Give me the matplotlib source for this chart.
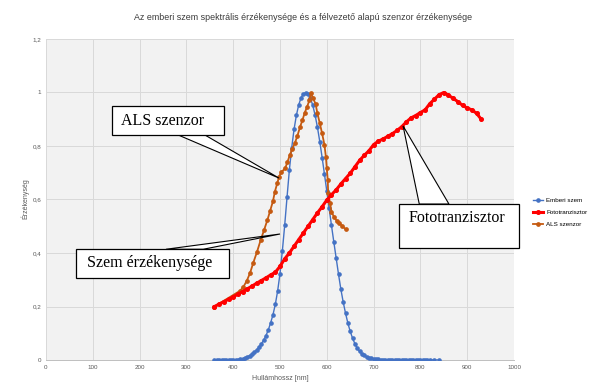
import matplotlib
matplotlib.use("Agg")
import matplotlib.pyplot as plt
from matplotlib.patches import Rectangle, Polygon
from matplotlib.ticker import FuncFormatter, MultipleLocator

# ---------------- data ----------------
eye_nm = [360, 365, 370, 375, 380, 385, 390, 395, 400, 405, 410, 415, 420, 425, 430, 435,
          440, 445, 450, 455, 460, 465, 470, 475, 480, 485, 490, 495, 500, 505, 510, 515,
          520, 525, 530, 535, 540, 545, 550, 555, 560, 565, 570, 575, 580, 585, 590, 595,
          600, 605, 610, 615, 620, 625, 630, 635, 640, 645, 650, 655, 660, 665, 670, 675,
          680, 685, 690, 695, 700, 705, 710, 715, 720, 725, 730, 735, 740, 745, 750, 755,
          760, 765, 770, 775, 780, 785, 790, 795, 800, 805, 810, 815, 820, 830, 840]
eye_val = [0.0000, 0.0000, 0.0000, 0.0000, 0.0000, 0.0001, 0.0001, 0.0002, 0.0004, 0.0006,
           0.0012, 0.0022, 0.0040, 0.0073, 0.0116, 0.0168, 0.0230, 0.0298, 0.0380, 0.0480,
           0.0600, 0.0739, 0.0910, 0.1126, 0.1390, 0.1693, 0.2080, 0.2586, 0.3230, 0.4073,
           0.5030, 0.6082, 0.7100, 0.7932, 0.8620, 0.9149, 0.9540, 0.9803, 0.9950, 1.0000,
           0.9950, 0.9786, 0.9520, 0.9154, 0.8700, 0.8163, 0.7570, 0.6949, 0.6310, 0.5668,
           0.5030, 0.4412, 0.3810, 0.3210, 0.2650, 0.2170, 0.1750, 0.1382, 0.1070, 0.0816,
           0.0610, 0.0446, 0.0320, 0.0232, 0.0170, 0.0119, 0.0082, 0.0057, 0.0041, 0.0029,
           0.0021, 0.0015, 0.0010, 0.0007, 0.0005, 0.0004, 0.0002, 0.0002, 0.0001, 0.0001,
           0.0001, 0.0000, 0.0000, 0.0000, 0.0000, 0.0000, 0.0000, 0.0000, 0.0000, 0.0000,
           0.0000, 0.0000, 0.0000, 0.0000, 0.0000]

photo_nm = [360, 370, 380, 390, 400, 410, 420, 430, 440, 450, 460, 470, 480, 490, 500,
            510, 520, 530, 540, 550, 560, 570, 580, 590, 600, 610, 620, 630, 640, 650,
            660, 670, 680, 690, 700, 710, 720, 730, 740, 750, 760, 770, 780, 790, 800,
            810, 820, 830, 840, 850, 860, 870, 880, 890, 900, 910, 920, 930]
photo_val = [0.200, 0.209, 0.218, 0.227, 0.236, 0.246, 0.256, 0.266, 0.276, 0.287, 0.297,
             0.307, 0.318, 0.328, 0.350, 0.378, 0.400, 0.425, 0.450, 0.475, 0.500, 0.525,
             0.550, 0.573, 0.598, 0.618, 0.636, 0.658, 0.678, 0.698, 0.722, 0.746, 0.765,
             0.782, 0.805, 0.818, 0.826, 0.836, 0.846, 0.858, 0.872, 0.890, 0.905, 0.914,
             0.925, 0.935, 0.958, 0.975, 0.992, 1.000, 0.990, 0.978, 0.966, 0.952, 0.942,
             0.935, 0.922, 0.900]

als_nm = [360, 415, 422, 429, 436, 443, 451, 459, 466, 473, 479, 485, 489, 494, 498, 503,
          511, 516, 521, 526, 532, 537, 543, 548, 553, 558, 563, 566, 571, 576, 580, 585,
          590, 595, 598, 600, 602, 603, 607, 610, 615, 621, 627, 633, 640]
als_val = [0.200, 0.259, 0.274, 0.296, 0.325, 0.364, 0.405, 0.450, 0.486, 0.523, 0.558,
           0.594, 0.629, 0.660, 0.685, 0.703, 0.716, 0.741, 0.766, 0.789, 0.812, 0.837,
           0.872, 0.897, 0.925, 0.947, 0.972, 0.997, 0.978, 0.957, 0.922, 0.885, 0.847,
           0.804, 0.760, 0.716, 0.673, 0.623, 0.586, 0.554, 0.536, 0.521, 0.511, 0.501,
           0.489]

series_names = ["Emberi szem", "Fototranzisztor", "ALS szenzor"]
title = "Az emberi szem spektrális érzékenysége és a félvezető alapú szenzor érzékenysége"
xlabel = "Hullámhossz [nm]"
ylabel = "Érzékenység"

# ---------------- figure ----------------
plt.rcParams['font.family'] = ['Liberation Sans', 'DejaVu Sans']
fig = plt.figure(figsize=(6.06, 3.89), dpi=100)
ax = fig.add_axes([46 / 606, 1 - 360 / 389, (514 - 46) / 606, (360 - 39) / 389])
ax.set_facecolor("#f2f2f2")

BLUE = "#4472C4"
RED = "#FF0000"
ORANGE = "#C55A11"

l1, = ax.plot(eye_nm, eye_val, color=BLUE, lw=1.0, marker="o", ms=2.3,
              label=series_names[0], zorder=3)
l3, = ax.plot(als_nm, als_val, color=ORANGE, lw=1.3, marker="o", ms=2.4,
              label=series_names[2], zorder=3)
l2, = ax.plot(photo_nm, photo_val, color=RED, lw=2.2, marker="o", ms=2.6,
              label=series_names[1], zorder=4)

ax.set_xlim(0, 1000)
ax.set_ylim(0, 1.2)
ax.xaxis.set_major_locator(MultipleLocator(100))
ax.yaxis.set_major_locator(MultipleLocator(0.2))
ax.yaxis.set_major_formatter(FuncFormatter(lambda v, p: ("%g" % round(v, 2)).replace(".", ",")))
ax.grid(True, color="#d9d9d9", lw=0.7)
ax.set_axisbelow(True)
for s in ["top", "right", "left"]:
    ax.spines[s].set_visible(False)
ax.spines["bottom"].set_color("#bfbfbf")
ax.spines["bottom"].set_linewidth(0.7)
ax.tick_params(length=0, labelsize=4.5, colors="#595959", pad=3.5)

fig.text(303 / 606, 1 - 18 / 389, title, ha="center", va="center",
         fontsize=6.4, color="#3a3a3a")
fig.text(280 / 606, 1 - 379 / 389, xlabel, ha="center", va="center", fontsize=5,
         color="#595959")
fig.text(25 / 606, 1 - 199 / 389, ylabel, ha="center", va="center", fontsize=5,
         color="#595959", rotation=90)

ax.legend(handles=[l1, l2, l3], loc="upper left", bbox_to_anchor=(530 / 606, 1 - 195 / 389),
          bbox_transform=fig.transFigure, frameon=False, fontsize=4.5,
          handlelength=1.6, handletextpad=0.5, labelspacing=1.0, borderpad=0)

# ---------------- callouts ----------------
def callout(text, box, base, tip, text_xy):
    (x0, y0), (x1, y1) = box
    poly = Polygon([base[0], tip, base[1]], closed=True, facecolor="white",
                   edgecolor="black", lw=0.8, zorder=6, clip_on=False)
    ax.add_patch(poly)
    rect = Rectangle((x0, y1), x1 - x0, y0 - y1, facecolor="white", edgecolor="black",
                     lw=0.9, zorder=7, clip_on=False)
    ax.add_patch(rect)
    ax.text(text_xy[0], text_xy[1], text, ha="left", va="center", fontsize=11.5,
            family=["Liberation Serif", "DejaVu Serif"], zorder=8, clip_on=False)

callout("ALS szenzor", ((140.4, 0.949), (381, 0.841)),
        [(282.7, 0.841), (339.7, 0.841)], (497.9, 0.680), (160, 0.893))
callout("Szem érzékenysége", ((64, 0.414), (391.7, 0.305)),
        [(256.4, 0.414), (336, 0.414)], (500, 0.471), (87, 0.361))
callout("Fototranzisztor", ((754, 0.583), (1010, 0.4176)),
        [(797.6, 0.583), (861, 0.583)], (763, 0.875), (775.6, 0.530))

fig.savefig("out.png", dpi=100, facecolor="white")
